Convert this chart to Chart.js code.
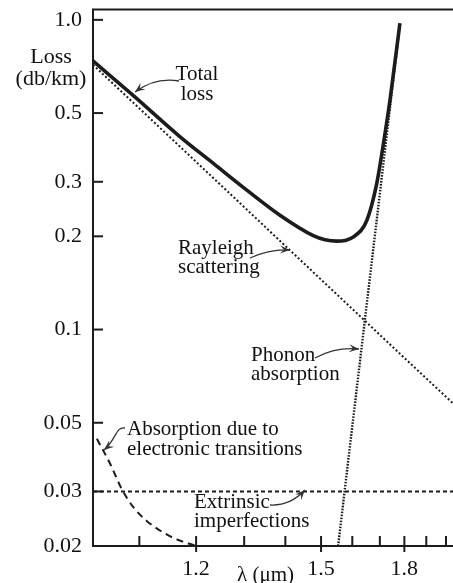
<!DOCTYPE html>
<html><head><meta charset="utf-8">
<script src="https://cdn.jsdelivr.net/npm/chart.js@4.4.1/dist/chart.umd.min.js"></script>
<style>html,body{margin:0;padding:0;background:#fff;} #wrap{width:453px;height:583px;}</style>
</head><body><div id="wrap"><canvas id="c" width="453" height="583"></canvas></div>
<script>
// Wavelength (μm) axis, plotted on a 1/λ scale (λ increasing to the right)
const xTickLambdas = [1.1, 1.2, 1.3, 1.4, 1.5, 1.6, 1.7, 1.8, 1.9, 2.0];
const xMajorLambdas = [1.2, 1.5, 1.8];
const xTickLabels = ['1.2', '1.5', '1.8'];
const xLeftLambda = 1.03;
const xRightLambda = 2.038;

// Loss (dB/km), log axis
const yTickValues = [0.02, 0.03, 0.05, 0.1, 0.2, 0.3, 0.5, 1.0];
const yTickLabels = ['0.02', '0.03', '0.05', '0.1', '0.2', '0.3', '0.5', '1.0'];
const yMin = 0.02;
const yMax = 1.08;

// Total loss
const totalLambda = [1.030, 1.091, 1.170, 1.234, 1.306, 1.386, 1.477, 1.512, 1.549, 1.576, 1.604, 1.651, 1.688, 1.714, 1.740, 1.781];
const totalLoss   = [0.737, 0.568, 0.419, 0.344, 0.282, 0.234, 0.201, 0.195, 0.193, 0.194, 0.199, 0.225, 0.296, 0.399, 0.551, 0.975];

// Rayleigh scattering
const rayleighLambda = [1.03, 1.2, 1.5, 1.8, 2.04];
const rayleighLoss   = [0.716, 0.348, 0.145, 0.081, 0.0576];

// Phonon absorption
const phononLambda = [1.553, 1.6, 1.65, 1.7, 1.781];
const phononLoss   = [0.020, 0.0487, 0.119, 0.275, 0.972];

// Extrinsic imperfections
const extrinsicLambda = [1.03, 2.04];
const extrinsicLoss   = [0.03, 0.03];

// Absorption due to electronic transitions
const electronicLambda = [1.0355, 1.055, 1.0725, 1.091, 1.112, 1.135, 1.164, 1.189, 1.2];
const electronicLoss   = [0.0444, 0.0368, 0.0305, 0.0266, 0.0241, 0.0224, 0.0210, 0.0203, 0.0200];

const toPts = (ls, vs) => ls.map((l, i) => ({x: 1 / l, y: vs[i]}));
const INK = '#1c1c1c';
const SERIF = '"Liberation Serif", "DejaVu Serif", serif';

function arrow(ctx, pts, cubic) {
  ctx.beginPath();
  ctx.moveTo(pts[0][0], pts[0][1]);
  if (cubic) ctx.bezierCurveTo(pts[1][0], pts[1][1], pts[2][0], pts[2][1], pts[3][0], pts[3][1]);
  else ctx.quadraticCurveTo(pts[1][0], pts[1][1], pts[2][0], pts[2][1]);
  ctx.stroke();
  const e = pts[pts.length - 1], f = pts[pts.length - 2];
  const ang = Math.atan2(e[1] - f[1], e[0] - f[0]);
  const L = 10, W = 4;
  const c = Math.cos(ang), s = Math.sin(ang);
  ctx.beginPath();
  ctx.moveTo(e[0], e[1]);
  ctx.lineTo(e[0] - L * c + W * s, e[1] - L * s - W * c);
  ctx.lineTo(e[0] - 0.6 * L * c, e[1] - 0.6 * L * s);
  ctx.lineTo(e[0] - L * c - W * s, e[1] - L * s + W * c);
  ctx.closePath();
  ctx.fill();
}

const refPlugin = {
  id: 'refPlugin',
  afterDraw(chart) {
    const {ctx, chartArea: a, scales: {x, y}} = chart;
    ctx.save();
    ctx.strokeStyle = INK; ctx.fillStyle = INK; ctx.lineWidth = 2;
    const line = (x1, y1, x2, y2) => { ctx.beginPath(); ctx.moveTo(x1, y1); ctx.lineTo(x2, y2); ctx.stroke(); };
    // top frame line
    line(a.left - 1, a.top, a.right, a.top);
    // y ticks (inward)
    yTickValues.forEach(v => { const py = y.getPixelForValue(v); line(a.left, py, a.left + 10, py); });
    // x ticks
    xTickLambdas.forEach(l => {
      const px = x.getPixelForValue(1 / l);
      const major = xMajorLambdas.includes(l);
      line(px, a.bottom + (major ? 6 : 0), px, a.bottom - 10);
    });
    // texts
    ctx.fillStyle = '#111';
    ctx.font = '22px ' + SERIF;
    ctx.textAlign = 'center'; ctx.textBaseline = 'alphabetic';
    ctx.fillText('Loss', 51, 63);
    ctx.fillText('(db/km)', 51, 85);
    ctx.font = '21px ' + SERIF;
    ctx.fillText('Total', 197, 80);
    ctx.fillText('loss', 197, 100);
    ctx.textAlign = 'left';
    ctx.fillText('Rayleigh', 178, 254);
    ctx.fillText('scattering', 178, 273);
    ctx.fillText('Phonon', 251, 361);
    ctx.fillText('absorption', 251, 380);
    ctx.fillText('Absorption due to', 127, 435);
    ctx.fillText('electronic transitions', 127, 455);
    ctx.fillText('Extrinsic', 194, 508);
    ctx.fillText('imperfections', 194, 527);
    ctx.fillText('λ (μm)', 237, 581);
    // arrows
    ctx.strokeStyle = '#333'; ctx.fillStyle = '#333'; ctx.lineWidth = 1.3;
    arrow(ctx, [[179, 81], [155, 77], [135, 92]]);
    arrow(ctx, [[250, 258], [270, 249], [290, 250]]);
    arrow(ctx, [[315, 358], [335, 347], [359, 349]]);
    arrow(ctx, [[125, 428], [116, 426], [116, 440], [104, 450]], true);
    arrow(ctx, [[270, 505], [290, 506], [305, 490]]);
    ctx.restore();
  }
};

new Chart(document.getElementById('c'), {
  type: 'line',
  data: {
    datasets: [
      {label: 'Total loss', data: toPts(totalLambda, totalLoss), borderColor: INK, borderWidth: 3.6,
       cubicInterpolationMode: 'monotone', pointRadius: 0, fill: false},
      {label: 'Rayleigh scattering', data: toPts(rayleighLambda, rayleighLoss), borderColor: INK, borderWidth: 2,
       borderDash: [2, 2.2], pointRadius: 0, fill: false},
      {label: 'Phonon absorption', data: toPts(phononLambda, phononLoss), borderColor: INK, borderWidth: 2.4,
       borderDash: [1.6, 1.4], pointRadius: 0, fill: false},
      {label: 'Extrinsic imperfections', data: toPts(extrinsicLambda, extrinsicLoss), borderColor: INK, borderWidth: 2,
       borderDash: [4, 3], pointRadius: 0, fill: false},
      {label: 'Electronic transitions', data: toPts(electronicLambda, electronicLoss), borderColor: INK, borderWidth: 2,
       borderDash: [7, 5], cubicInterpolationMode: 'monotone', pointRadius: 0, fill: false}
    ]
  },
  options: {
    responsive: false, devicePixelRatio: 1, animation: false, events: [],
    layout: {padding: {top: 9.5, right: 0, left: 0, bottom: 0}},
    plugins: {legend: {display: false}, tooltip: {enabled: false}},
    scales: {
      x: {
        type: 'linear', reverse: true, min: 1 / xRightLambda, max: 1 / xLeftLambda,
        afterBuildTicks: s => { s.ticks = xTickLambdas.map(l => ({value: 1 / l})); },
        afterFit: s => { s.height = 37; s.paddingLeft = 0; s.paddingRight = 0; },
        ticks: {
          autoSkip: false, maxRotation: 0, padding: 10, color: '#111', font: {family: SERIF, size: 22},
          callback: v => { const i = xMajorLambdas.findIndex(l => Math.abs(1 / l - v) < 1e-9); return i >= 0 ? xTickLabels[i] : ''; }
        },
        grid: {display: false, drawTicks: false},
        border: {display: true, color: INK, width: 2}
      },
      y: {
        type: 'logarithmic', min: yMin, max: yMax,
        afterBuildTicks: s => { s.ticks = yTickValues.map(v => ({value: v})); },
        afterFit: s => { s.width = 93; s.paddingTop = 0; s.paddingBottom = 0; },
        ticks: {
          autoSkip: false, padding: 11, color: '#111', font: {family: SERIF, size: 22},
          callback: v => { const i = yTickValues.findIndex(t => Math.abs(t - v) < 1e-9); return i >= 0 ? yTickLabels[i] : ''; }
        },
        grid: {display: false, drawTicks: false},
        border: {display: true, color: INK, width: 2}
      }
    }
  },
  plugins: [refPlugin]
});
</script>
</body></html>
